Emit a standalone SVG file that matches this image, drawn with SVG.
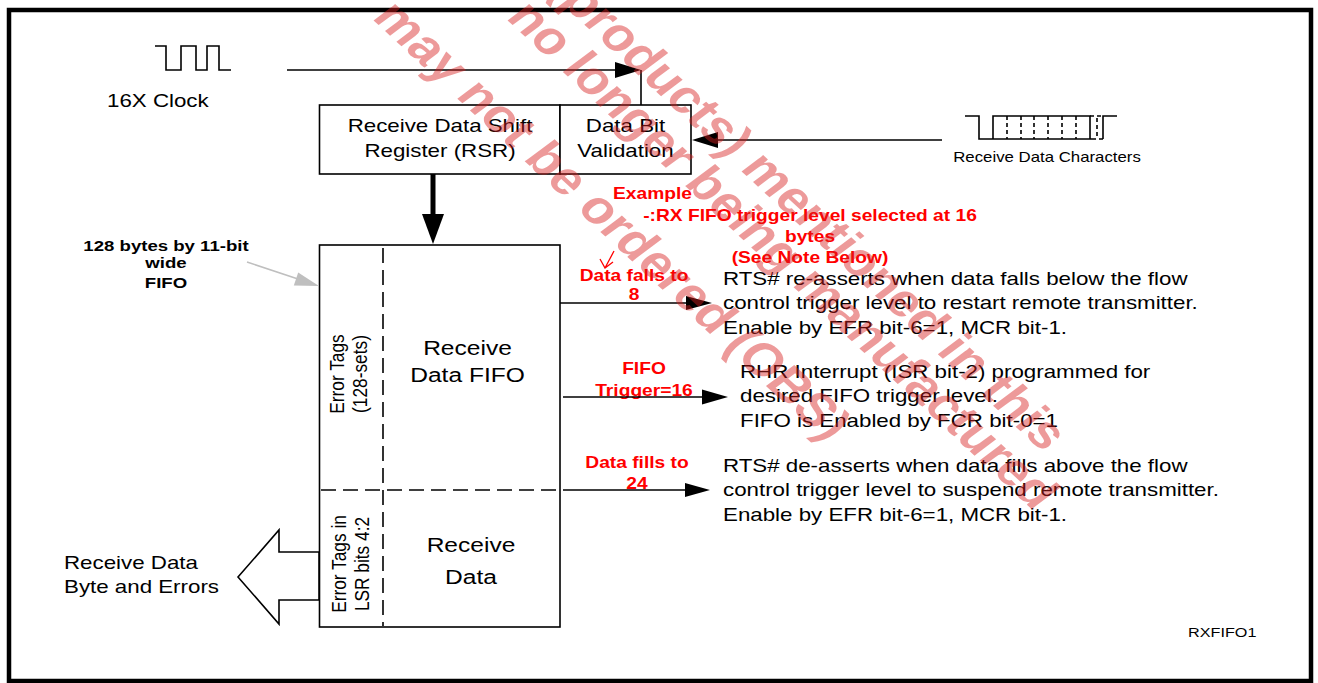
<svg xmlns="http://www.w3.org/2000/svg" width="1318" height="683" viewBox="0 0 1318 683">
<style>
text{font-family:"Liberation Sans",Arial,Helvetica,sans-serif;}
.t{font-size:18.6px;fill:#000;}
.big{font-size:21px;fill:#000;}
.rot{font-size:17.3px;fill:#000;}
.sm{font-size:14px;fill:#000;}
.xs{font-size:13.5px;fill:#000;}
.rd{font-size:16px;font-weight:bold;fill:#ff0000;}
.bk{font-size:15.5px;font-weight:bold;fill:#000;}
.wm{font-size:46px;font-weight:bold;fill:#d81e1e;fill-opacity:0.45;}
.ln{stroke:#000;stroke-width:1.6;fill:none;}
.box{stroke:#000;stroke-width:1.6;fill:#fff;}
.dash{stroke:#000;stroke-width:1.6;stroke-dasharray:15 7;fill:none;}
.head{fill:#000;stroke:none;}
</style>
<rect x="0" y="0" width="1318" height="683" fill="#fff"/>
<rect id="frame" x="9" y="10" width="1302" height="671" fill="none" stroke="#000" stroke-width="4.5"/>

<g id="clock">
<path class="ln" d="M155,46 H166 V70 H181 V46 H196 V70 H207 V46 H219 V70 H231"/>
<text class="t" transform="translate(107,107) scale(1.2,1)">16X Clock</text>
</g>

<g id="rsr">
<rect class="box" x="319.5" y="105" width="240.5" height="69"/>
<text class="t" text-anchor="middle" transform="translate(440,132) scale(1.2,1)">Receive Data Shift<tspan x="0" dy="25">Register (RSR)</tspan></text>
</g>

<g id="data-bit-validation">
<rect class="box" x="560" y="105" width="131" height="69"/>
<text class="t" text-anchor="middle" transform="translate(625.5,132) scale(1.2,1)">Data Bit<tspan x="0" dy="25">Validation</tspan></text>
</g>

<g id="rx-characters">
<path class="ln" d="M965,116 H979 V139 H1092 M993,139 V116 H1090 V139 M1103,139 V116 H1117"/>
<path class="ln" stroke-dasharray="4 3" d="M1007,116 V139 M1021,116 V139 M1034,116 V139 M1048,116 V139 M1062,116 V139 M1076,116 V139 M1097,118 V139 M1090,116 H1103 M1092,139 H1103"/>
<text class="sm" text-anchor="middle" transform="translate(1047,162) scale(1.2,1)">Receive Data Characters</text>
</g>

<g id="fifo">
<rect class="box" x="319.5" y="245" width="240.5" height="382"/>
<path class="dash" d="M383,248 V626"/>
<path class="dash" d="M321,490 H559"/>
<text class="rot" text-anchor="middle" transform="translate(344,374) scale(1.2,1) rotate(-90)">Error Tags<tspan x="0" dy="19">(128-sets)</tspan></text>
<text class="big" text-anchor="middle" transform="translate(467.5,355) scale(1.17,1)">Receive<tspan x="0" dy="27">Data FIFO</tspan></text>
<text class="rot" text-anchor="middle" transform="translate(346,564) scale(1.2,1) rotate(-90)">Error Tags in<tspan x="0" dy="19">LSR bits 4:2</tspan></text>
<text class="big" text-anchor="middle" transform="translate(471,552) scale(1.17,1)">Receive<tspan x="0" dy="32">Data</tspan></text>
</g>

<g id="fifo-size-label">
<text class="bk" text-anchor="middle" transform="translate(166,251) scale(1.2,1)">128 bytes by 11-bit<tspan x="0" dy="17">wide</tspan><tspan x="0" dy="20">FIFO</tspan></text>
</g>

<g id="output-label">
<text class="t" transform="translate(64,569) scale(1.2,1)">Receive Data<tspan x="0" dy="24">Byte and Errors</tspan></text>
</g>

<g id="example-note">
<text class="rd" transform="translate(613,199) scale(1.2,1)">Example</text>
<text class="rd" text-anchor="middle" transform="translate(810,221) scale(1.2,1)">-:RX FIFO trigger level selected at 16<tspan x="0" dy="21">bytes</tspan><tspan x="0" dy="21">(See Note Below)</tspan></text>
<path d="M614,251 L605,268 M600,259 L605,268 L613,262" stroke="#ff0000" stroke-width="1.3" fill="none"/>
</g>

<g id="labels-red">
<text class="rd" text-anchor="middle" transform="translate(634,281) scale(1.2,1)">Data falls to<tspan x="0" dy="19">8</tspan></text>
<text class="rd" text-anchor="middle" transform="translate(644,374) scale(1.2,1)">FIFO<tspan x="0" dy="22">Trigger=16</tspan></text>
<text class="rd" text-anchor="middle" transform="translate(637,468) scale(1.2,1)">Data fills to<tspan x="0" dy="21">24</tspan></text>
</g>

<g id="desc-reassert">
<text class="t" transform="translate(723,285) scale(1.2,1)">RTS# re-asserts when data falls below the flow<tspan x="0" dy="24.5">control trigger level to restart remote transmitter.</tspan><tspan x="0" dy="24.5">Enable by EFR bit-6=1, MCR bit-1.</tspan></text>
</g>
<g id="desc-rhr">
<text class="t" transform="translate(740,378) scale(1.2,1)">RHR Interrupt (ISR bit-2) programmed for<tspan x="0" dy="24.5">desired FIFO trigger level.</tspan><tspan x="0" dy="24.5">FIFO is Enabled by FCR bit-0=1</tspan></text>
</g>
<g id="desc-deassert">
<text class="t" transform="translate(723,472) scale(1.2,1)">RTS# de-asserts when data fills above the flow<tspan x="0" dy="24.5">control trigger level to suspend remote transmitter.</tspan><tspan x="0" dy="24.5">Enable by EFR bit-6=1, MCR bit-1.</tspan></text>
</g>

<g id="figure-id">
<text class="xs" transform="translate(1188,637) scale(1.2,1)">RXFIFO1</text>
</g>

<g id="connectors">
<path class="ln" d="M287,70 H616"/>
<polygon class="head" points="615,62 641,70 615,78"/>
<path class="ln" d="M641,70 V105"/>
<path class="ln" d="M942,140 H716"/>
<polygon class="head" points="718,132 692,140 718,148"/>
<path d="M433,174 V216" stroke="#000" stroke-width="5" fill="none"/>
<polygon class="head" points="422,214 444,214 433,244"/>
<path class="ln" d="M560,303 H690"/>
<polygon class="head" points="686,296 712,303 686,310"/>
<path class="ln" d="M563,397 H704"/>
<polygon class="head" points="702,389.5 728,397 702,404.5"/>
<path class="ln" d="M563,490 H688"/>
<polygon class="head" points="685,483 710,490 685,497"/>
<path d="M247,262 L298,279" stroke="#bfbfbf" stroke-width="1.6" fill="none"/>
<polygon points="319,286 293.8,285.6 298.2,272.4" fill="#bfbfbf"/>
<polygon points="319,552 279,552 279,530 238,577 279,624 279,600 319,600" fill="#fff" stroke="#000" stroke-width="1.6"/>
</g>

<g id="watermark">
<text class="wm" transform="translate(547,-10) scale(1.2,1) rotate(48.2)">(products) mentioned in this</text>
<text class="wm" transform="translate(505,18) scale(1.2,1) rotate(48.2)">no longer being manufactured</text>
<text class="wm" transform="translate(371,18) scale(1.2,1) rotate(48.2)">may not be ordered (OBS)</text>
</g>
</svg>
